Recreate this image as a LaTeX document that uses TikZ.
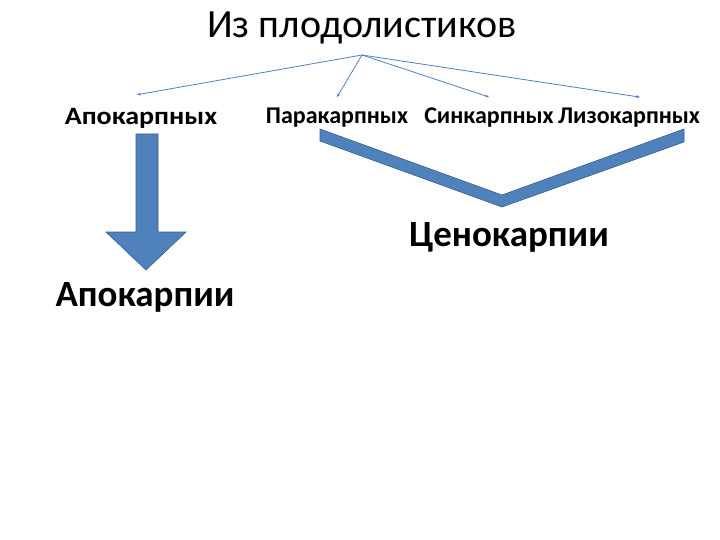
\documentclass[tikz,border=0pt]{standalone}
\usepackage{fontspec}
\setmainfont{Carlito}
\newfontfamily\widefont[FakeStretch=1.12]{Carlito}
\usetikzlibrary{arrows.meta,positioning}
\definecolor{offblue}{HTML}{4F81BD}
\definecolor{offedge}{HTML}{385D8A}

\begin{document}
\begin{tikzpicture}[x=1pt,y=-1pt,
  kind/.style={font=\bfseries\fontsize{24}{28}\selectfont,inner sep=0pt},
  result/.style={font=\bfseries\fontsize{37}{42}\selectfont,inner sep=0pt},
  thin arr/.style={-{Stealth[length=4pt,width=3pt]},offblue,line width=0.8pt},
  block/.style={fill=offblue,draw=offedge,line width=0.6pt,line join=miter}
]
\useasboundingbox (0,0) rectangle (720,540);
\node[font=\fontsize{40}{46}\selectfont,inner sep=0pt] (title) at (362,28) {Из плодолистиков};
\coordinate (src) at (362,55);
\node[kind,font=\widefont\bfseries\fontsize{25}{28}\selectfont] (apo) at (141,118) {Апокарпных};
\node[kind] (para) at (337,118) {Паракарпных};
\node[kind] (syn) at (489,118) {Синкарпных};
\node[kind] (lyso) at (629,118) {Лизокарпных};
\draw[thin arr] (src) -- ([xshift=-4pt,yshift=13pt]apo.north);
\draw[thin arr] (src) -- ([yshift=11pt]para.north);
\draw[thin arr] (src) -- ([yshift=11pt]syn.north);
\draw[thin arr] (src) -- ([xshift=11pt,yshift=11pt]lyso.north);
% big arrow and bracket
\draw[block] (136,134) -- (158,134) -- (158,232) -- (186,232) -- (146,270)
  -- (106,232) -- (136,232) -- cycle;
\draw[block] (320,129) -- (502,195) -- (684,129) -- (684,142) -- (502,207)
  -- (320,141) -- cycle;
\node[result] (ceno) at (509,237) {Ценокарпии};
\node[result] (apoc) at (145,297) {Апокарпии};
\end{tikzpicture}
\end{document}
